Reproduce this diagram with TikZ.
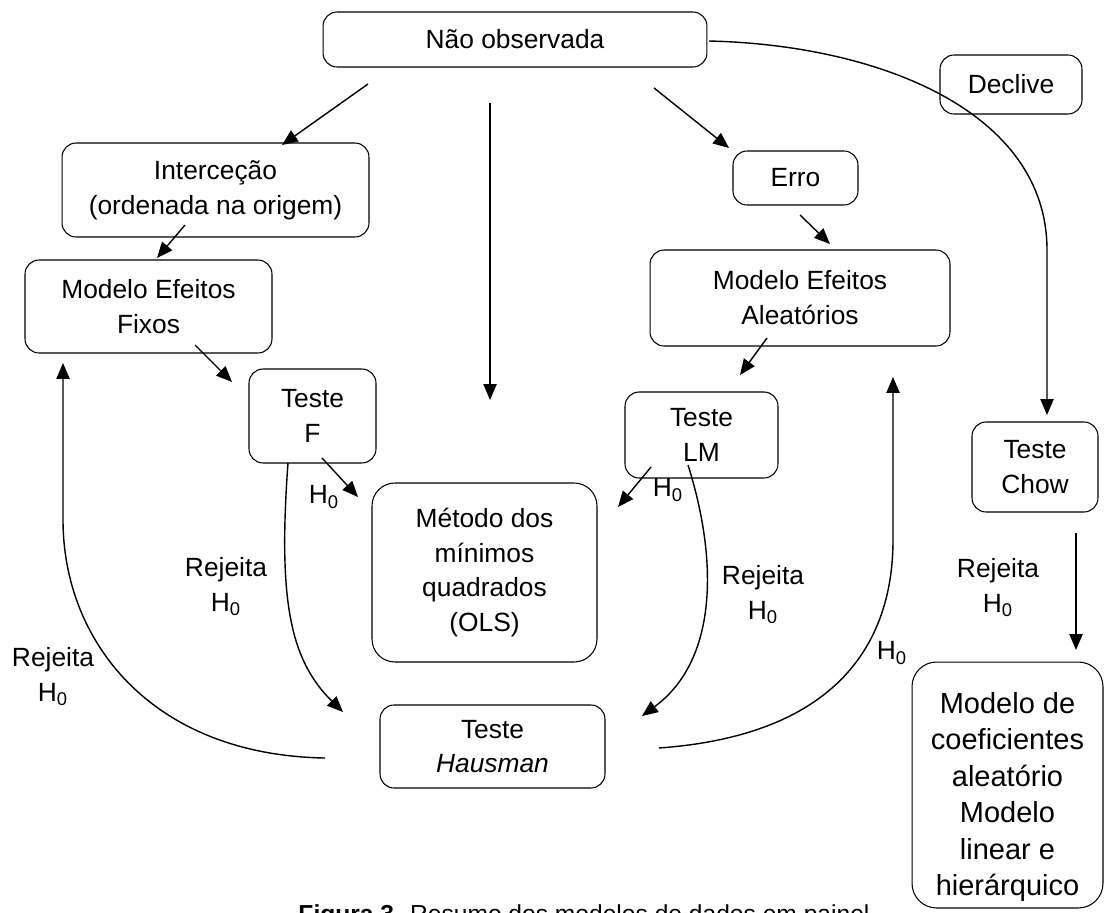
\documentclass[tikz,border=0pt]{standalone}
\usepackage{fontspec}
\setmainfont{Liberation Sans}
\usetikzlibrary{arrows.meta}
\begin{document}
\begin{tikzpicture}[x=0.02cm,y=-0.02cm,
  box/.style={draw, line width=0.6pt, rounded corners=8pt, align=center, inner sep=0pt,
              font=\fontsize{15}{19.84}\selectfont},
  lbl/.style={align=center, inner sep=0pt, font=\fontsize{15}{19.84}\selectfont},
  arr/.style={line width=0.8pt, -{Triangle[length=9pt,width=7.5pt]}}]
\useasboundingbox (0,0) rectangle (1106,913);
\clip (0,0) rectangle (1106,913);

% boxes
\node[box, minimum width=7.68cm, minimum height=1.1cm] (nao) at (515,39.5) {Não observada};
\node[box, minimum width=2.84cm, minimum height=1.18cm] (declive) at (1011,84.5) {Declive};
\node[box, minimum width=6.14cm, minimum height=1.88cm] (inter) at (215.5,190) {Interceção\\(ordenada na origem)};
\node[box, minimum width=2.5cm, minimum height=1.08cm] (erro) at (795.5,178) {Erro};
\node[box, minimum width=4.94cm, minimum height=1.86cm] (fixos) at (148.5,306.5) {Modelo Efeitos\\Fixos};
\node[box, minimum width=6.0cm, minimum height=1.92cm] (aleat) at (800,298) {Modelo Efeitos\\Aleatórios};
\node[box, minimum width=2.54cm, minimum height=1.88cm] (testef) at (312.5,416) {Teste\\F};
\node[box, minimum width=3.06cm, minimum height=1.72cm] (testelm) at (701.5,435) {Teste\\LM};
\node[box, rounded corners=13pt, minimum width=4.5cm, minimum height=3.58cm] (ols) at (484.5,572.5) {Método dos\\mínimos\\quadrados\\(OLS)};
\node[box, minimum width=2.52cm, minimum height=1.8cm] (chow) at (1035,467) {Teste\\Chow};
\node[box, minimum width=4.5cm, minimum height=1.66cm] (haus) at (492.5,746.5) {Teste\\\textit{Hausman}};
\node[box, rounded corners=14pt, minimum width=3.82cm, minimum height=4.92cm] (coefs) at (1007.5,785) {};
\node[lbl, font=\fontsize{16.5}{20.7}\selectfont] (coefst) at (1007.5,797) {Modelo de\\coeficientes\\aleatório\\Modelo\\linear e\\hierárquico};

% labels
\node[lbl] (h1) at (324,497) {H\textsubscript{0}};
\node[lbl] (r1) at (226,587) {Rejeita\\H\textsubscript{0}};
\node[lbl] (r2) at (53,677) {Rejeita\\H\textsubscript{0}};
\node[lbl] (h2) at (668,490) {H\textsubscript{0}};
\node[lbl] (r3) at (763,595) {Rejeita\\H\textsubscript{0}};
\node[lbl] (h3) at (892,653) {H\textsubscript{0}};
\node[lbl] (r4) at (998,588) {Rejeita\\H\textsubscript{0}};

% caption (cut by the frame)
\node[anchor=base, inner sep=0pt, font=\fontsize{14}{16}\selectfont] (cap) at (584,922)
  {\textbf{Figura 3.} Resumo dos modelos de dados em painel};

% connector end points
\coordinate (a1s) at (368,84);   \coordinate (a1e) at (282,145);
\coordinate (a2s) at (490,103);  \coordinate (a2e) at (490,400);
\coordinate (a3s) at (654,88);   \coordinate (a3e) at (729,148);
\coordinate (a4s) at (709,41);   \coordinate (a4m) at (1047,250); \coordinate (a4e) at (1047,415);
\coordinate (a5s) at (185,225);  \coordinate (a5e) at (157,258);
\coordinate (a6s) at (195,345);  \coordinate (a6e) at (232,382);
\coordinate (a7s) at (800,215);  \coordinate (a7e) at (830,244);
\coordinate (a8s) at (767,338);  \coordinate (a8e) at (740,375);
\coordinate (a9s) at (322,458);  \coordinate (a9e) at (358,497);
\coordinate (a10s) at (651,467); \coordinate (a10e) at (618,507);
\coordinate (a11s) at (288,463); \coordinate (a11e) at (343,712);
\coordinate (a12s) at (688,465); \coordinate (a12e) at (642,716);
\coordinate (a13s) at (325,758); \coordinate (a13m) at (63,520); \coordinate (a13e) at (63,363);
\coordinate (a14s) at (659,748); \coordinate (a14m) at (893,540); \coordinate (a14e) at (893,377);
\coordinate (a15s) at (1076,533); \coordinate (a15e) at (1076,650);

% connectors
\draw[arr] (a1s) -- (a1e);
\draw[arr] (a2s) -- (a2e);
\draw[arr] (a3s) -- (a3e);
\draw[arr] (a4s) .. controls (880,45) and (1047,112) .. (a4m) -- (a4e);
\draw[arr] (a5s) -- (a5e);
\draw[arr] (a6s) -- (a6e);
\draw[arr] (a7s) -- (a7e);
\draw[arr] (a8s) -- (a8e);
\draw[arr] (a9s) -- (a9e);
\draw[arr] (a10s) -- (a10e);
\draw[arr] (a11s) .. controls (278,600) and (290,660) .. (a11e);
\draw[arr] (a12s) .. controls (718,560) and (718,660) .. (a12e);
\draw[arr] (a13s) .. controls (150,755) and (63,640) .. (a13m) -- (a13e);
\draw[arr] (a14s) .. controls (840,735) and (893,640) .. (a14m) -- (a14e);
\draw[arr] (a15s) -- (a15e);
\end{tikzpicture}
\end{document}
